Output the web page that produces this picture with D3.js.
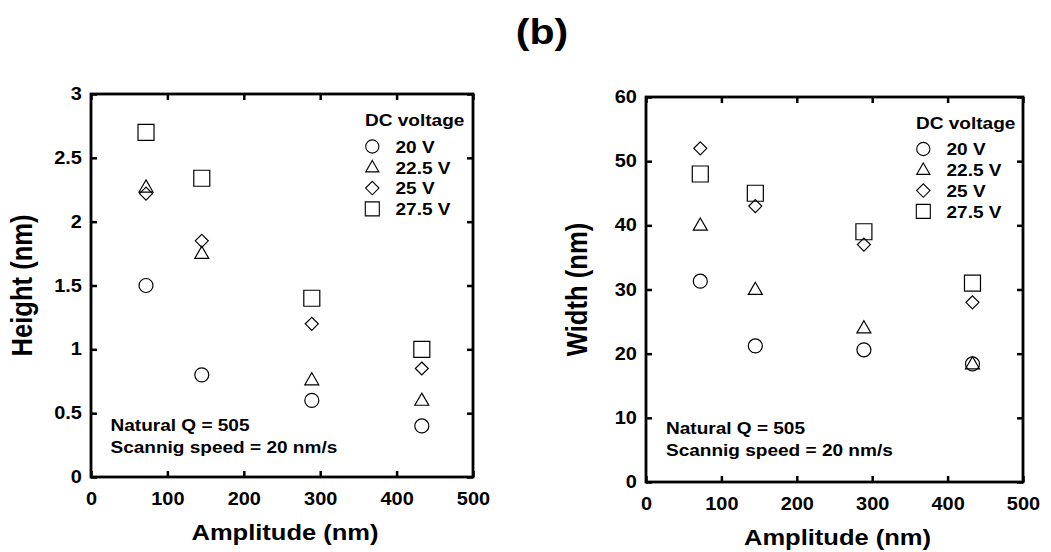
<!DOCTYPE html>
<html>
<head>
<meta charset="utf-8">
<script src="https://cdn.jsdelivr.net/npm/d3@7"></script>
<style>
  html, body { margin: 0; padding: 0; background: #fff; }
  svg text { font-family: "Liberation Sans", Arial, Helvetica, sans-serif; font-weight: bold; fill: #000; }
</style>
</head>
<body>
<svg id="chart" width="1051" height="552"></svg>
<script>
// ---------- data ----------
const amplitudes = [72, 145, 289, 433];
const seriesNames = ["20 V", "22.5 V", "25 V", "27.5 V"];
const symbolTypes = ["circle", "triangle", "diamond", "square"];

const height20 = [1.5, 0.8, 0.6, 0.4];
const height225 = [2.27, 1.75, 0.76, 0.6];
const height25 = [2.22, 1.85, 1.2, 0.85];
const height275 = [2.7, 2.34, 1.4, 1.0];

const width20 = [31.3, 21.2, 20.6, 18.4];
const width225 = [40, 30, 24, 18.4];
const width25 = [52, 43, 37, 28];
const width275 = [48, 45, 39, 31];

const xTicks = [0, 100, 200, 300, 400, 500];
const heightTicks = [0, 0.5, 1, 1.5, 2, 2.5, 3];
const heightTickLabels = ["0", "0.5", "1", "1.5", "2", "2.5", "3"];
const widthTicks = [0, 10, 20, 30, 40, 50, 60];
const widthTickLabels = ["0", "10", "20", "30", "40", "50", "60"];

const xTitle = "Amplitude (nm)";
const legendTitle = "DC voltage";
const noteLines = ["Natural Q = 505", "Scannig speed = 20 nm/s"];
const titleText = "(b)";

// ---------- drawing ----------
const SX = 1.14; // horizontal stretch of the reference lettering
const svg = d3.select("#chart");

function label(parent, x, y, str, size, anchor) {
  return parent.append("g").attr("transform", `translate(${x},${y}) scale(${SX},1)`)
    .append("text").attr("text-anchor", anchor || "start")
    .style("font-size", size + "px").text(str);
}

label(svg, 542, 44, titleText, 36, "middle");

function symbolPath(type, r) {
  if (type === "circle") return d3.symbol().type(d3.symbolCircle).size(Math.PI * r * r)();
  if (type === "square") return `M${-r},${-r}H${r}V${r}H${-r}Z`;
  if (type === "diamond") return `M0,${-r}L${r},0L0,${r}L${-r},0Z`;
  const h = 2 * r * Math.sqrt(3) / 2;
  return `M0,${-h * 0.6}L${r},${h * 0.4}L${-r},${h * 0.4}Z`;
}
const symR = { circle: 7, triangle: 7, diamond: 6.5, square: 8 };
const legR = { circle: 6.6, triangle: 6.6, diamond: 6.7, square: 7 };

function drawPanel(cfg) {
  const g = svg.append("g");
  const x = d3.scaleLinear().domain([0, 500]).range([cfg.left, cfg.right]);
  const y = d3.scaleLinear().domain(cfg.yDomain).range([cfg.bottom, cfg.top]);

  const tickLen = 6;
  const fs = 16.7;
  const tfs = 17.5;
  const bottomAxis = d3.axisBottom(x).tickValues(xTicks).tickSize(-tickLen).tickFormat(d => d).tickPadding(15.5);
  const topAxis = d3.axisTop(x).tickValues(xTicks).tickSize(-tickLen).tickFormat("");
  const leftAxis = d3.axisLeft(y).tickValues(cfg.yTicks).tickSize(-tickLen)
      .tickFormat((d, i) => cfg.yTickLabels[i]).tickPadding(8);
  const rightAxis = d3.axisRight(y).tickValues(cfg.yTicks).tickSize(-tickLen).tickFormat("");

  function styleAxis(sel) {
    sel.select(".domain").remove();
    sel.selectAll(".tick line").attr("stroke", "#000").attr("stroke-width", 2.5);
    sel.selectAll(".tick text").style("font-size", tfs + "px").attr("fill", "#000")
      .attr("transform", `scale(${SX},1)`);
  }
  g.append("g").attr("transform", `translate(0,${cfg.bottom})`).call(bottomAxis).call(styleAxis)
    .selectAll(".tick text").attr("dy", "0.71em");
  g.append("g").attr("transform", `translate(0,${cfg.top})`).call(topAxis).call(styleAxis);
  g.append("g").attr("transform", `translate(${cfg.left},0)`).call(leftAxis).call(styleAxis);
  g.append("g").attr("transform", `translate(${cfg.right},0)`).call(rightAxis).call(styleAxis);

  g.append("rect")
    .attr("x", cfg.left).attr("y", cfg.top)
    .attr("width", cfg.right - cfg.left).attr("height", cfg.bottom - cfg.top)
    .attr("fill", "none").attr("stroke", "#000").attr("stroke-width", 2.8);

  cfg.series.forEach((vals, si) => {
    const type = symbolTypes[si];
    g.append("g").selectAll("path").data(vals).enter().append("path")
      .attr("d", symbolPath(type, symR[type]))
      .attr("transform", (d, i) => `translate(${x(amplitudes[i])},${y(d)})`)
      .attr("fill", "none").attr("stroke", "#000").attr("stroke-width", 1.2);
  });

  label(g, cfg.legX, cfg.legY, legendTitle, fs);
  seriesNames.forEach((name, i) => {
    const cy = cfg.legY + 20.5 + i * 20.8;
    const type = symbolTypes[i];
    g.append("path").attr("d", symbolPath(type, legR[type]))
      .attr("transform", `translate(${cfg.legX + 7.3},${cy})`)
      .attr("fill", "none").attr("stroke", "#000").attr("stroke-width", 1.1);
    label(g, cfg.legX + 30.5, cy + 6.2, name, fs);
  });

  noteLines.forEach((t, i) => label(g, cfg.noteX, cfg.noteY + i * 22.7, t, fs));

  label(g, (cfg.left + cfg.right) / 2 + 3, cfg.bottom + 63, xTitle, 22.4, "middle");
  g.append("g")
    .attr("transform", `translate(${cfg.yTitleX},${(cfg.top + cfg.bottom) / 2}) scale(${SX},1) rotate(-90)`)
    .append("text").attr("text-anchor", "middle").style("font-size", "25.6px").text(cfg.yTitle);
}

drawPanel({
  left: 91, right: 473, top: 94, bottom: 477,
  yDomain: [0, 3], yTicks: heightTicks, yTickLabels: heightTickLabels,
  series: [height20, height225, height25, height275],
  legX: 365, legY: 126,
  noteX: 110.5, noteY: 430.7,
  yTitle: "Height (nm)", yTitleX: 32
});

drawPanel({
  left: 646, right: 1023, top: 97, bottom: 482,
  yDomain: [0, 60], yTicks: widthTicks, yTickLabels: widthTickLabels,
  series: [width20, width225, width25, width275],
  legX: 916, legY: 128.5,
  noteX: 666, noteY: 433.5,
  yTitle: "Width (nm)", yTitleX: 587
});
</script>
</body>
</html>
